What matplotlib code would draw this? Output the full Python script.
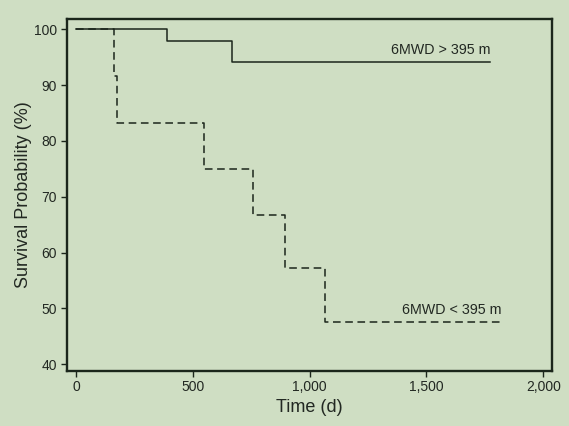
import matplotlib
matplotlib.use("Agg")
import matplotlib.pyplot as plt
from matplotlib.ticker import FuncFormatter

plt.rcParams["font.family"] = ["Liberation Sans", "DejaVu Sans"]

# Kaplan-Meier step data (time in days, survival %)
high_times = [0, 388, 666, 1772]
high_surv = [100.0, 97.9, 94.2, 94.2]
low_times = [0, 164, 177, 549, 756, 894, 1066, 1826]
low_surv = [100.0, 91.7, 83.3, 75.0, 66.7, 57.2, 47.6, 47.6]

high_label = "6MWD > 395 m"
low_label = "6MWD < 395 m"
x_ticks = [0, 500, 1000, 1500, 2000]
y_ticks = [40, 50, 60, 70, 80, 90, 100]

bg = "#cfdec3"
ink = "#1b261b"
txt = "#222822"

fig = plt.figure(figsize=(5.69, 4.26), dpi=100, facecolor=bg)
ax = fig.add_axes([0.1172, 0.1298, 0.9696 - 0.1172, 0.9554 - 0.1298])
ax.set_facecolor(bg)

ax.step(low_times, low_surv, where="post", color=ink, lw=1.1,
        linestyle=(0, (5, 3)))
ax.step(high_times, high_surv, where="post", color=ink, lw=1.1)

ax.text(high_times[-1], high_surv[-1] + 0.9, high_label, ha="right", va="bottom",
        fontsize=10.3, color=txt)
ax.text(low_times[-1] - 5, low_surv[-1] + 0.9, low_label, ha="right", va="bottom",
        fontsize=10.3, color=txt)

ax.set_xlim(-40, 2036)
ax.set_ylim(38.85, 101.85)
ax.set_xticks(x_ticks)
ax.set_yticks(y_ticks)
ax.xaxis.set_major_formatter(FuncFormatter(lambda v, p: f"{int(v):,}"))
ax.tick_params(axis="both", direction="out", length=4, width=1.0, color=ink,
               labelsize=10, labelcolor=txt, pad=3)
for s in ax.spines.values():
    s.set_linewidth(1.7)
    s.set_color(ink)

ax.set_xlabel("Time (d)", fontsize=13, color=txt, labelpad=3)
ax.set_ylabel("Survival Probability (%)", fontsize=13, color=txt, labelpad=1)

fig.savefig("out.png", dpi=100, facecolor=bg)
